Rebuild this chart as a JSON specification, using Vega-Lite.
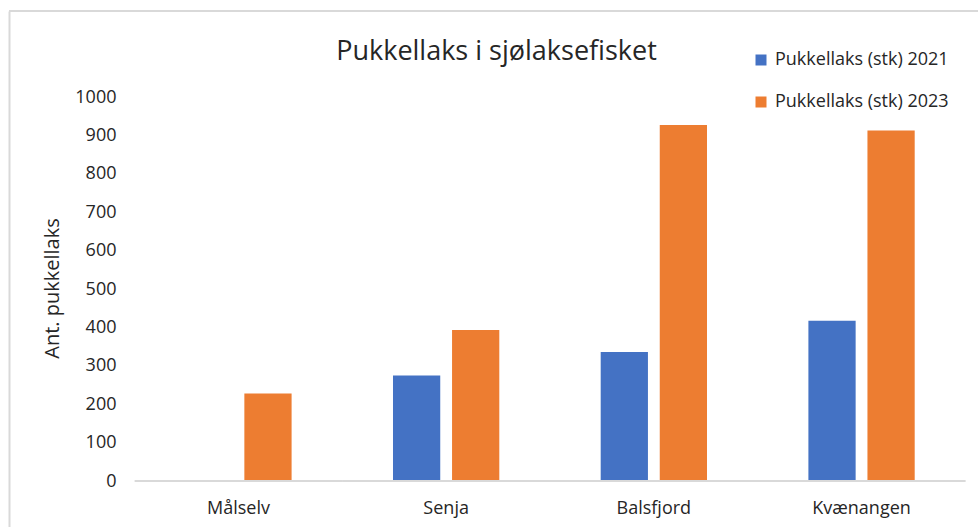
{
  "$schema": "https://vega.github.io/schema/vega-lite/v6.json",
  "width": 969,
  "height": 516,
  "autosize": {"type": "none"},
  "padding": {"left": 9, "top": 11, "right": 0, "bottom": 0},
  "background": "white",
  "config": {
    "font": "Open Sans",
    "view": {"stroke": "#d9d9d9", "strokeWidth": 2, "strokeDash": [969, 2001]},
    "axis": {"grid": false, "domain": false, "ticks": false, "tickSize": 0, "labelColor": "#262626", "titleColor": "#262626", "labelFont": "Open Sans", "titleFont": "Open Sans"}
  },
  "title": {
    "text": "Pukkellaks i sjølaksefisket",
    "font": "Open Sans",
    "fontSize": 27,
    "fontWeight": "normal",
    "color": "#262626",
    "anchor": "middle",
    "frame": "group",
    "baseline": "alphabetic",
    "offset": -76,
    "dx": 3
  },
  "data": {
    "values": [
      {"omrade": "Målselv", "serie": "Pukkellaks (stk) 2023", "antall": 228},
      {"omrade": "Senja", "serie": "Pukkellaks (stk) 2021", "antall": 275},
      {"omrade": "Senja", "serie": "Pukkellaks (stk) 2023", "antall": 393},
      {"omrade": "Balsfjord", "serie": "Pukkellaks (stk) 2021", "antall": 336},
      {"omrade": "Balsfjord", "serie": "Pukkellaks (stk) 2023", "antall": 927},
      {"omrade": "Kvænangen", "serie": "Pukkellaks (stk) 2021", "antall": 417},
      {"omrade": "Kvænangen", "serie": "Pukkellaks (stk) 2023", "antall": 913}
    ]
  },
  "encoding": {
    "x": {
      "field": "omrade",
      "type": "nominal",
      "sort": ["Målselv", "Senja", "Balsfjord", "Kvænangen"],
      "scale": {"paddingInner": 0.4882, "paddingOuter": 0.5768, "align": 0.7358},
      "axis": {"orient": "bottom", "offset": -19, "labelPadding": 0, "labelFontSize": 18, "labelBaseline": "middle", "labelAngle": 0, "title": null}
    }
  },
  "layer": [
    {
      "mark": {"type": "bar"},
      "encoding": {
        "xOffset": {"field": "serie", "type": "nominal", "scale": {"paddingInner": 0.2, "paddingOuter": 0}},
        "y": {
          "field": "antall",
          "type": "quantitative",
          "title": "Ant. pukkellaks",
          "scale": {"domain": [-119.79, 1223.96], "nice": false, "zero": false},
          "axis": {"values": [0, 100, 200, 300, 400, 500, 600, 700, 800, 900, 1000], "format": "d", "offset": 0, "domain": true, "domainColor": "#d9d9d9", "domainWidth": 2, "labelPadding": -107, "labelFontSize": 18, "titleFontSize": 20, "titleFontWeight": "normal", "titleX": 49, "titleY": 277, "titleAngle": -90, "titleAlign": "center", "titleBaseline": "alphabetic"}
        },
        "color": {
          "field": "serie",
          "type": "nominal",
          "scale": {"domain": ["Pukkellaks (stk) 2021", "Pukkellaks (stk) 2023"], "range": ["#4472C4", "#ED7D31"]},
          "legend": {"orient": "none", "legendX": 743, "legendY": 40, "title": null, "symbolType": "square", "symbolSize": 121, "symbolStrokeWidth": 0, "labelFontSize": 18, "labelLimit": 400, "labelColor": "#262626", "labelOffset": 5, "rowPadding": 24, "padding": 0}
        }
      }
    },
    {
      "mark": {"type": "tick", "size": 207.7, "thickness": 2, "color": "#d9d9d9", "opacity": 1},
      "encoding": {
        "y": {
          "datum": 0,
          "type": "quantitative",
          "title": "Ant. pukkellaks",
          "axis": {"values": [0, 100, 200, 300, 400, 500, 600, 700, 800, 900, 1000], "format": "d", "offset": 0, "domain": true, "domainColor": "#d9d9d9", "domainWidth": 2, "labelPadding": -107, "labelFontSize": 18, "titleFontSize": 20, "titleFontWeight": "normal", "titleX": 49, "titleY": 277, "titleAngle": -90, "titleAlign": "center", "titleBaseline": "alphabetic"}
        }
      }
    }
  ]
}
